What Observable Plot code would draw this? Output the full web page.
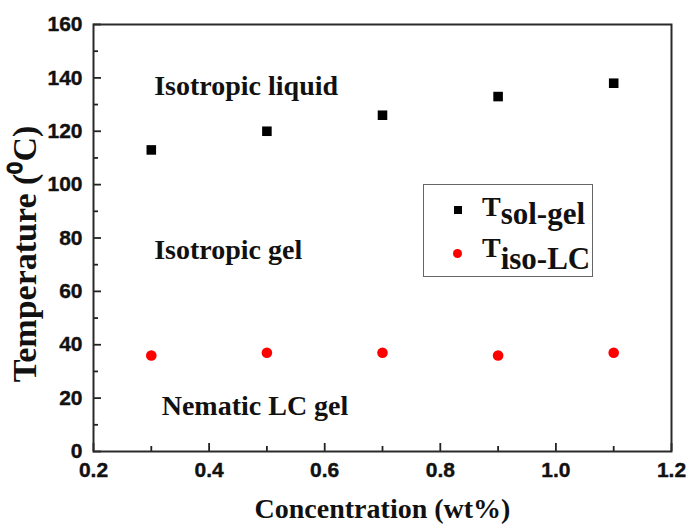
<!DOCTYPE html>
<html>
<head>
<meta charset="utf-8">
<script src="https://cdn.jsdelivr.net/npm/d3@7"></script>
<script src="https://cdn.jsdelivr.net/npm/@observablehq/plot@0.6"></script>
<style>
  html, body { margin: 0; padding: 0; background: #fff; }
  #wrap { position: relative; width: 690px; height: 528px; overflow: hidden; }
  #legend { position: absolute; left: 423px; top: 184px; width: 168px; height: 91px;
            border: 1.5px solid #666; background: #fff; font-family: "Liberation Serif", serif; font-weight: bold; }
  .sym { position: absolute; }
  .lab { position: absolute; left: 58px; color: #111; white-space: nowrap; }
  .T { font-size: 28px; }
  .sub { font-size: 31px; position: relative; }
</style>
</head>
<body>
<div id="wrap"></div>
<script>
// ---- data ----
const concentration = [0.3, 0.5, 0.7, 0.9, 1.1];          // wt%
const tSolGel = [113, 120, 126, 133, 138];                // °C, black squares
const tIsoLC = [36, 37, 37, 36, 37];                      // °C, red circles
const xMajorTicks = [0.2, 0.4, 0.6, 0.8, 1.0, 1.2];
const xMinorTicks = [0.3, 0.5, 0.7, 0.9, 1.1];
const yMajorTicks = [0, 20, 40, 60, 80, 100, 120, 140, 160];
const yMinorTicks = [10, 30, 50, 70, 90, 110, 130, 150];
const regionNames = ["Isotropic liquid", "Isotropic gel", "Nematic LC gel"];
const regionX = [0.305, 0.305, 0.318];
const regionY = [137, 75.5, 17];
const xTitle = "Concentration (wt%)";
const yTitle = "Temperature (\u2070C)";
const seriesNames = [["T", "sol-gel"], ["T", "iso-LC"]];

const solGel = concentration.map((c, i) => ({c, t: tSolGel[i]}));
const isoLC = concentration.map((c, i) => ({c, t: tIsoLC[i]}));
const regions = regionNames.map((name, i) => ({name, x: regionX[i], y: regionY[i]}));

const W = 690, H = 528, mL = 93, mR = 19, mT = 24, mB = 77;
const fw = W - mL - mR, fh = H - mT - mB;
const serif = "Liberation Serif, Times New Roman, serif";
const sans = "Liberation Sans, Arial, sans-serif";

const chart = Plot.plot({
  width: W, height: H,
  marginLeft: mL, marginRight: mR, marginTop: mT, marginBottom: mB,
  style: {background: "#fff", color: "#111", overflow: "visible"},
  x: {domain: [0.2, 1.2], axis: null},
  y: {domain: [0, 160], axis: null},
  marks: [
    // inward ticks
    Plot.tickY(yMajorTicks, {y: d => d, insetRight: fw - 8, stroke: "#222", strokeWidth: 1.8}),
    Plot.tickY(yMinorTicks, {y: d => d, insetRight: fw - 5, stroke: "#222", strokeWidth: 1.8}),
    Plot.tickX(xMajorTicks, {x: d => d, insetTop: fh - 8, stroke: "#222", strokeWidth: 1.8}),
    Plot.tickX(xMinorTicks, {x: d => d, insetTop: fh - 5, stroke: "#222", strokeWidth: 1.8}),
    Plot.frame({stroke: "#2a2a2a", strokeWidth: 2}),
    // tick labels
    Plot.text(yMajorTicks, {y: d => d, text: d => String(d), frameAnchor: "left", textAnchor: "end", dx: -11,
      fontSize: 21, fontWeight: 700, fontFamily: sans, fill: "#111", stroke: "#111", strokeWidth: 0.4}),
    Plot.text(xMajorTicks, {x: d => d, text: d => d.toFixed(1), frameAnchor: "bottom", lineAnchor: "top", dy: 11,
      fontSize: 21, fontWeight: 700, fontFamily: sans, fill: "#111", stroke: "#111", strokeWidth: 0.4}),
    // axis titles
    Plot.text([xTitle], {text: d => d, frameAnchor: "bottom", textAnchor: "middle", dy: 66, fontSize: 28, fontWeight: "bold", fontFamily: serif, fill: "#111"}),
    Plot.text([yTitle], {text: d => d, frameAnchor: "left", textAnchor: "middle", rotate: -90, dx: -68, dy: 16, fontSize: 34, fontWeight: "bold", fontFamily: serif, fill: "#111"}),
    // region annotations
    Plot.text(regions, {x: "x", y: "y", text: "name", textAnchor: "start", fontSize: 28, fontWeight: "bold", fontFamily: serif, fill: "#111"}),
    // data
    Plot.dot(solGel, {x: "c", y: "t", symbol: "square", r: 5.4, fill: "#000", stroke: "none"}),
    Plot.dot(isoLC, {x: "c", y: "t", symbol: "circle", r: 5.3, fill: "#f00", stroke: "none"})
  ]
});

const wrap = document.getElementById("wrap");
wrap.appendChild(chart);

// legend (HTML overlay)
const legend = document.createElement("div");
legend.id = "legend";
const rows = [
  {top: 3, sym: {left: 30, top: 21, w: 8, h: 8, radius: "0", color: "#000"}, subShift: 8},
  {top: 44, sym: {left: 29, top: 64, w: 9, h: 9, radius: "50%", color: "#f00"}, subShift: 12}
];
seriesNames.forEach(([main, sub], i) => {
  const r = rows[i];
  const s = document.createElement("div");
  s.className = "sym";
  Object.assign(s.style, {left: r.sym.left + "px", top: r.sym.top + "px", width: r.sym.w + "px", height: r.sym.h + "px",
    borderRadius: r.sym.radius, background: r.sym.color});
  legend.appendChild(s);
  const l = document.createElement("div");
  l.className = "lab";
  l.style.top = r.top + "px";
  l.innerHTML = `<span class="T">${main}</span><span class="sub" style="top:${r.subShift}px">${sub}</span>`;
  legend.appendChild(l);
});
wrap.appendChild(legend);
</script>
</body>
</html>
